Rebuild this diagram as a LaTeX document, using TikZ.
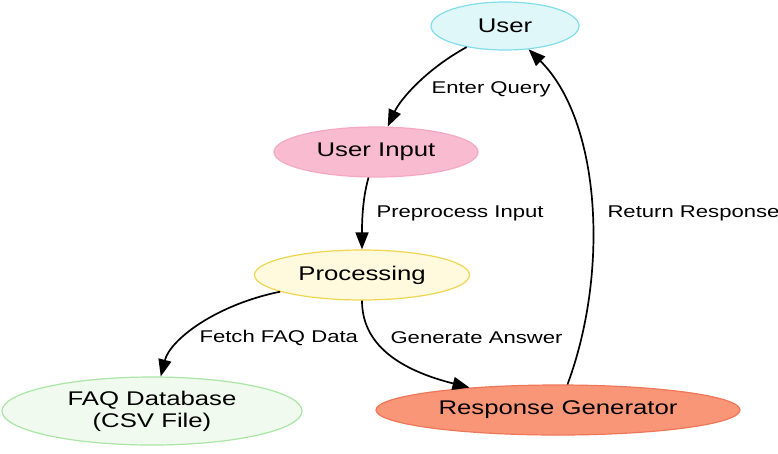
\documentclass[tikz,border=0pt]{standalone}
\usepackage{fontspec}
\setmainfont{Liberation Sans}[FakeStretch=1.3]
\usetikzlibrary{arrows.meta,shapes.geometric}
\definecolor{userfill}{RGB}{224,247,250}
\definecolor{userline}{RGB}{128,222,234}
\definecolor{inputfill}{RGB}{248,187,208}
\definecolor{inputline}{RGB}{244,170,195}
\definecolor{procfill}{RGB}{255,249,222}
\definecolor{procline}{RGB}{240,214,80}
\definecolor{faqfill}{RGB}{241,250,238}
\definecolor{faqline}{RGB}{170,230,165}
\definecolor{genfill}{RGB}{250,150,120}
\definecolor{genline}{RGB}{240,118,88}
\tikzset{stage/.style={ellipse,draw,line width=1.2pt,inner sep=0pt,align=center,
    font=\fontsize{19.8}{22}\selectfont},
  link/.style={-{Triangle[length=17pt,width=13pt]},line width=1.7pt,black},
  edgetext/.style={anchor=west,font=\fontsize{17}{19}\selectfont}}
\begin{document}
\begin{tikzpicture}[x=1pt,y=-1pt]
\useasboundingbox (0,0) rectangle (778,453);
\node[stage,fill=userfill,draw=userline,minimum width=148pt,minimum height=48pt] (user) at (505,26) {User};
\node[stage,fill=inputfill,draw=inputline,minimum width=204pt,minimum height=50pt] (input) at (376,152) {User Input};
\node[stage,fill=procfill,draw=procline,minimum width=215pt,minimum height=50pt] (proc) at (362,275) {Processing};
\node[stage,fill=faqfill,draw=faqline,minimum width=300pt,minimum height=68pt] (faq) at (152,411) {FAQ Database\\(CSV File)};
\node[stage,fill=genfill,draw=genline,minimum width=364pt,minimum height=50pt] (gen) at (558,410) {Response Generator};
% connectors
\draw[link] (user) .. controls (425,70) and (400,100) .. (input);
\draw[link] (input) .. controls (362,200) and (362,225) .. (proc);
\draw[link] (proc) .. controls (215,305) and (170,340) .. (faq);
\draw[link] (proc) .. controls (362,345) and (400,370) .. (gen);
\draw[link] (gen) .. controls (610,270) and (600,120) .. (user);
\node[edgetext] (query) at (428,89) {Enter Query};
\node[edgetext] (prep) at (373,213) {Preprocess Input};
\node[edgetext] (fetch) at (196,338) {Fetch FAQ Data};
\node[edgetext] (answer) at (387,338) {Generate Answer};
\node[edgetext] (ret) at (604,213) {Return Response};
\end{tikzpicture}
\end{document}
